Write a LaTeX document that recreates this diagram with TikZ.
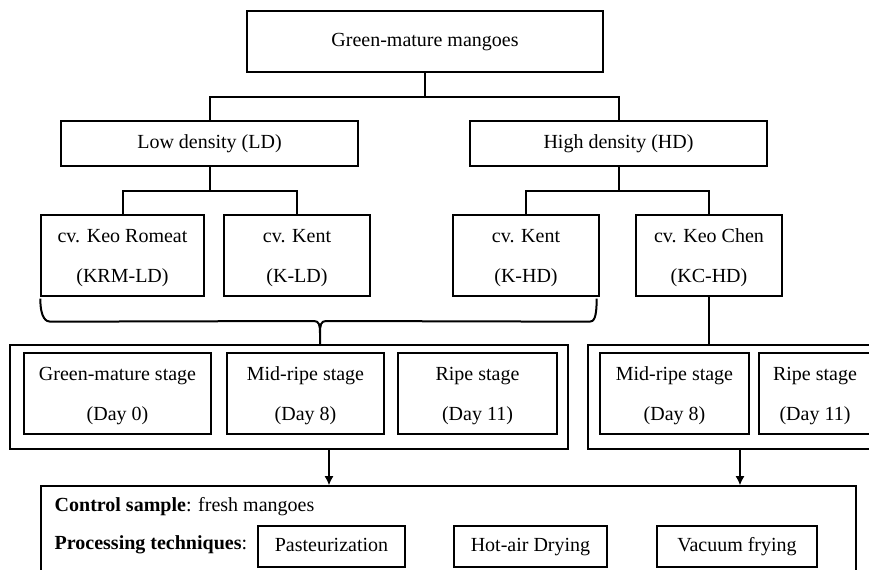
\documentclass[tikz,border=0pt]{standalone}
\usepackage{fontspec}
\setmainfont{Liberation Serif}
\usetikzlibrary{arrows.meta, calc}
\def\u{0.75pt}
\begin{document}
\begin{tikzpicture}[x=0.75pt, y=-0.75pt,
            box/.style={draw, line width=1pt, inner sep=0pt, font=\fontsize{15}{18}\selectfont},
            onebox/.style={box, text height=10pt, text depth=3pt},
            twoline/.style={box, align=center, font=\fontsize{15}{30}\selectfont, text depth=-2pt},
            link/.style={line width=1.5pt},
            arr/.style={line width=1.5pt, -{Latex[length=7pt, width=7pt]}}
        ]
        \useasboundingbox (0,0) rectangle (869,569);
        \clip (0,0) rectangle (869,569);

        % Top level and the two densities
        \node[onebox, minimum width=356*\u, minimum height=61*\u] (top) at (425,41.5) {Green-mature mangoes};
        \node[onebox, minimum width=297*\u, minimum height=45*\u] (ld) at (209.5,143.5) {Low density (LD)};
        \node[onebox, minimum width=297*\u, minimum height=45*\u] (hd) at (618.5,143.5) {High density (HD)};

        % Cultivars
        \node[twoline, minimum width=163*\u, minimum height=81*\u] (krm) at (122.5,255.5) {cv. Keo Romeat\\(KRM-LD)};
        \node[twoline, minimum width=146*\u, minimum height=81*\u] (kld) at (297,255.5) {cv. Kent\\(K-LD)};
        \node[twoline, minimum width=146*\u, minimum height=81*\u] (khd) at (526,255.5) {cv. Kent\\(K-HD)};
        \node[twoline, minimum width=146*\u, minimum height=81*\u] (kchd) at (709,255.5) {cv. Keo Chen\\(KC-HD)};

        % Ripening stages
        \node[box, minimum width=558*\u, minimum height=104*\u] (stld) at (289,397) {};
        \node[twoline, minimum width=187*\u, minimum height=81*\u] (gm) at (117.5,393.5) {Green-mature stage\\(Day 0)};
        \node[twoline, minimum width=157*\u, minimum height=81*\u] (mrld) at (305.5,393.5) {Mid-ripe stage\\(Day 8)};
        \node[twoline, minimum width=159*\u, minimum height=81*\u] (rld) at (477.5,393.5) {Ripe stage\\(Day 11)};

        \node[box, minimum width=312*\u, minimum height=104*\u] (sthd) at (744,397) {};
        \node[twoline, minimum width=149*\u, minimum height=81*\u] (mrhd) at (674.5,393.5) {Mid-ripe stage\\(Day 8)};
        \node[twoline, minimum width=112*\u, minimum height=81*\u] (rhd) at (815,393.5) {Ripe stage\\(Day 11)};

        % Samples and processing
        \node[box, minimum width=815*\u, minimum height=134*\u] (ctrl) at (448.5,553) {};
        \node[anchor=west, font=\fontsize{15}{18}\selectfont] (ctrltxt) at (50,507) {\textbf{Control sample}: fresh mangoes};
        \node[anchor=west, font=\fontsize{15}{18}\selectfont] (proctxt) at (50,545) {\textbf{Processing techniques}:};
        \node[onebox, minimum width=147*\u, minimum height=41*\u] (past) at (331.5,546.5) {Pasteurization};
        \node[onebox, minimum width=153*\u, minimum height=41*\u] (hot) at (530.5,546.5) {Hot-air Drying};
        \node[onebox, minimum width=160*\u, minimum height=41*\u] (vac) at (737,546.5) {Vacuum frying};

        % Tree connectors
        \draw[link] (top.south) -- ++(0,24) -| (ld.north);
        \draw[link] (top.south) ++(0,24) -| (hd.north);
        \draw[link] (ld.south) -- ++(0,24) -| (krm.north);
        \draw[link] (ld.south) ++(0,24) -| (kld.north);
        \draw[link] (hd.south) -- ++(0,24) -| (khd.north);
        \draw[link] (hd.south) ++(0,24) -| (kchd.north);
        \draw[link] (kchd.south) -- (kchd.south |- sthd.north);

        % Brace over the LD cultivars and K-HD
        \coordinate (tip) at (320,345);
        \draw[link, line join=round] ($(krm.south west)+(0,2)$) .. controls +(0,20) and +(-4,0) .. ($(krm.south west)+(10,25)$)
            -- ($(tip)+(-6,-24)$) .. controls +(5,0) and +(0,-8) .. ($(tip)+(0,-12)$) -- (tip)
            -- ($(tip)+(0,-12)$) .. controls +(0,-8) and +(-5,0) .. ($(tip)+(6,-24)$)
            -- ($(khd.south east)+(-10,25)$) .. controls +(4,0) and +(0,20) .. ($(khd.south east)+(-3,2)$);

        % Arrows to the samples
        \coordinate (a1) at (329,449);
        \coordinate (a2) at (740,449);
        \draw[arr] (a1) -- (a1 |- ctrl.north);
        \draw[arr] (a2) -- (a2 |- ctrl.north);
\end{tikzpicture}
\end{document}
